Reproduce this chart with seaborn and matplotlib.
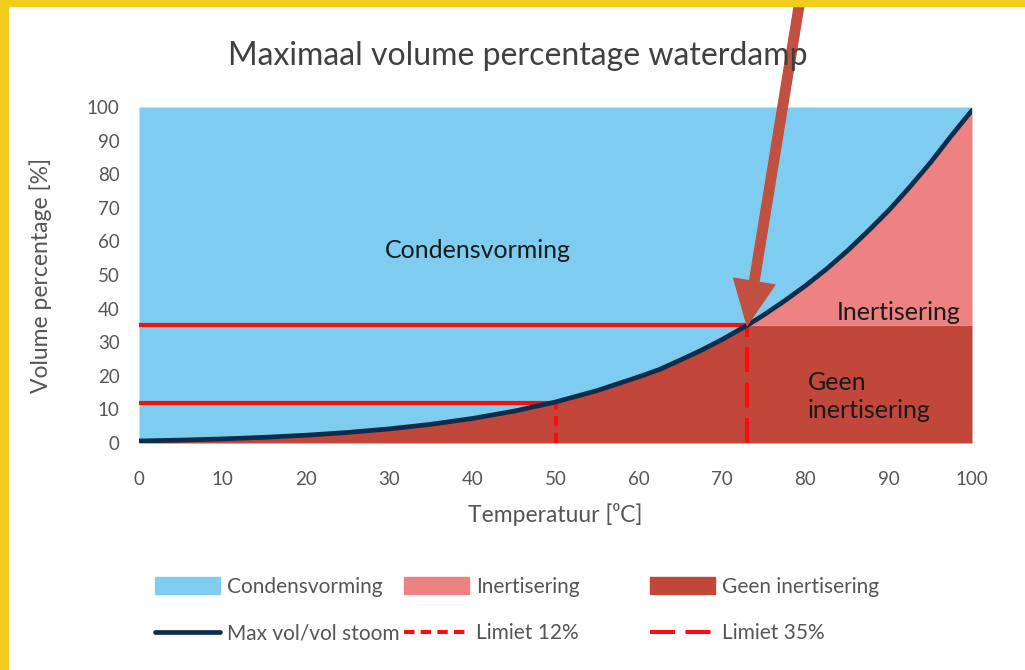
"""
Maximaal volume percentage waterdamp - recreated chart
"""

import numpy as np
import pandas as pd
import matplotlib
matplotlib.use("Agg")
import matplotlib.pyplot as plt
import seaborn as sns
from matplotlib.patches import Patch, Rectangle
from matplotlib.lines import Line2D

# saturation curve, volume % water vapour at 1 atm
temps = [0, 5, 10, 15, 20, 25, 30, 35, 40, 45, 50, 55, 60, 62.5, 65, 67.5, 70, 73, 75,
         77.5, 80, 82.5, 85, 87.5, 90, 92.5, 95, 97.5, 100]
vol_pct = [0.6, 0.86, 1.21, 1.68, 2.31, 3.13, 4.19, 5.55, 7.29, 9.47, 12.2, 15.6, 19.7, 21.9,
           24.7, 27.6, 30.8, 35.0, 38.1, 42.3, 46.8, 51.7, 57.1, 63.0, 69.2, 76.1, 83.4,
           91.4, 99.0]

limit_temps = [50, 73]
limit_values = [12, 35]
limit_labels = ["Limiet 12%", "Limiet 35%"]

x_ticks = list(range(0, 101, 10))
y_ticks = list(range(0, 101, 10))

title = "Maximaal volume percentage waterdamp"
x_label = "Temperatuur [\u2070C]"
y_label = "Volume percentage [%]"

c_blue = "#7ecdf0"
c_light = "#ee8181"
c_dark = "#c0473a"
c_curve = "#0c2e4e"
c_limit = "#f50f0f"
c_arrow = "#c0503f"
c_text = "#555555"

df = pd.DataFrame({"temp": temps, "vol": vol_pct})

sns.set_theme(style="white")
plt.rcParams["font.family"] = ["Lato", "DejaVu Sans"]

W, H = 1025, 670
fig = plt.figure(figsize=(W / 100, H / 100), dpi=100)
fig.patch.set_facecolor("white")
ax = fig.add_axes([139 / W, 1 - 443 / H, 833 / W, 336 / H])

x = df["temp"].to_numpy()
y = df["vol"].to_numpy()
cap = limit_values[1]

# regions
ax.fill_between(x, y, 100, color=c_blue, lw=0)
ax.fill_between(x, 0, np.minimum(y, cap), color=c_dark, lw=0)
ax.fill_between(x, cap, np.maximum(y, cap), color=c_light, lw=0)

# limits
dash_styles = [(0, (2.5, 1.5)), (0, (6, 2.5))]
for t, v, ds in zip(limit_temps, limit_values, dash_styles):
    ax.plot([0, t], [v, v], color=c_limit, lw=3, solid_capstyle="butt", zorder=3)
    ax.plot([t, t], [0, v], color=c_limit, lw=3, linestyle=ds, zorder=3)

sns.lineplot(data=df, x="temp", y="vol", ax=ax, color=c_curve, lw=3.4, zorder=4)

ax.set_xlim(0, 100)
ax.set_ylim(0, 100)
ax.set_xticks(x_ticks)
ax.set_yticks(y_ticks)
ax.tick_params(axis="both", labelsize=13.5, labelcolor=c_text, direction="in",
               length=4, color="#ebebeb")
ax.tick_params(axis="x", pad=20)
ax.tick_params(axis="y", pad=14, length=0)
for s in ax.spines.values():
    s.set_visible(False)
ax.set_xlabel(x_label, fontsize=16.5, color=c_text)
ax.set_ylabel(y_label, fontsize=16.5, color=c_text)
ax.xaxis.set_label_coords((555 - 139) / 833, (443 - 503) / 336)
ax.yaxis.set_label_coords((52 - 139) / 833, 0.5)

# region labels
lab_kw = dict(fontsize=18, color="#1a1a1a", va="center")
ax.text(40.7, 57.4, "Condensvorming", ha="center", **lab_kw)
ax.text(98.6, 38.8, "Inertisering", ha="right", **lab_kw)
ax.text(80.3, 13.8, "Geen\ninertisering", ha="left", linespacing=1.25, **lab_kw)

fig.text(0.505, 1 - 56 / H, title, fontsize=23, color="#404040", ha="center", va="center")

# arrow pointing at the 35% crossing
ax.annotate("", xy=(limit_temps[1], limit_values[1]), xycoords="data",
            xytext=(800 / W, 1.0), textcoords="figure fraction",
            arrowprops=dict(arrowstyle="simple,head_length=0.8,head_width=0.75,tail_width=0.17",
                            mutation_scale=40, color=c_arrow, shrinkA=0, shrinkB=0),
            annotation_clip=False, zorder=6)

# legend, one column per group
columns = [
    (155, [Patch(color=c_blue, label="Condensvorming"),
           Line2D([], [], color=c_curve, lw=3.4, label="Max vol/vol stoom")]),
    (404, [Patch(color=c_light, label="Inertisering"),
           Line2D([], [], color=c_limit, lw=3, linestyle=dash_styles[0], label=limit_labels[0])]),
    (650, [Patch(color=c_dark, label="Geen inertisering"),
           Line2D([], [], color=c_limit, lw=3, linestyle=dash_styles[1], label=limit_labels[1])]),
]
for left, hs in columns:
    leg = fig.legend(handles=hs, loc="upper left", bbox_to_anchor=(left / W, 1 - 577 / H),
                     frameon=False, fontsize=15, handlelength=3.1, handleheight=0.9,
                     handletextpad=0.35, labelspacing=1.27, borderpad=0, borderaxespad=0)
    for t in leg.get_texts():
        t.set_color(c_text)

# yellow frame
fig.patches.append(Rectangle((0, 0), 8 / W, 1, transform=fig.transFigure,
                             color="#f2cc1c", zorder=10))
fig.patches.append(Rectangle((0, 1 - 6 / H), 1, 6 / H, transform=fig.transFigure,
                             color="#f2cc1c", zorder=10))

fig.savefig("out.png", dpi=100)
